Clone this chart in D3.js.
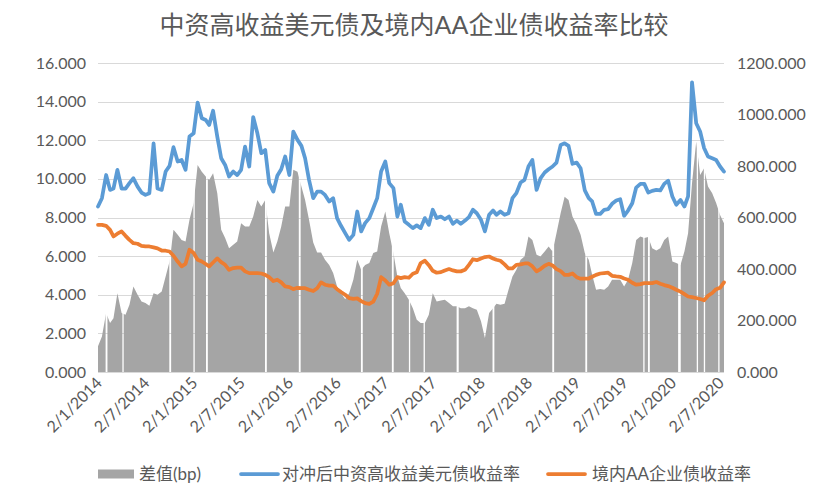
<html>
<head>
<title>中资高收益美元债及境内AA企业债收益率比较</title>
<!-- load the d3.js library -->
<script src="https://d3js.org/d3.v7.min.js"></script>
<meta charset="utf-8">
<style>
    body { margin: 0; background: #fff; }
    text { font-family: Lato, "Noto Sans CJK SC", sans-serif; fill: #595959; }
    .grid { stroke: #d9d9d9; stroke-width: 1px; }
    .spread { fill: #a5a5a5; }
    .line { fill: none; stroke: #5b9bd5; stroke-width: 3.75px; stroke-linejoin: round; stroke-linecap: round; }
    .line2 { fill: none; stroke: #ed7d31; stroke-width: 3.75px; stroke-linejoin: round; stroke-linecap: round; }
</style>
</head>
<body>
<script>
    var titleText = "中资高收益美元债及境内AA企业债收益率比较";
    var seriesNames = ["差值(bp)", "对冲后中资高收益美元债收益率", "境内AA企业债收益率"];

    // tick labels on the date axis (d/m/yyyy)
    var tickLabels = ["2/1/2014", "2/7/2014", "2/1/2015", "2/7/2015", "2/1/2016", "2/7/2016",
        "2/1/2017", "2/7/2017", "2/1/2018", "2/7/2018", "2/1/2019", "2/7/2019", "2/1/2020", "2/7/2020"];
    var leftTicks = [0, 2, 4, 6, 8, 10, 12, 14, 16];
    var rightTicks = [0, 200, 400, 600, 800, 1000, 1200];

    // observations on the 2nd and 17th of each month, Jan 2014 - Jul 2020
    var dates = [];
    d3.timeMonth.range(new Date(2014, 0, 1), new Date(2020, 7, 1)).forEach(function (m) {
        dates.push(new Date(m.getFullYear(), m.getMonth(), 2));
        dates.push(new Date(m.getFullYear(), m.getMonth(), 17));
    });

    // hedged chinese high-yield usd bond yield (%)
    var usdYield = [8.57, 9.0, 10.2, 9.43, 9.5, 10.47, 9.5, 9.5, 9.78, 10.03,
        9.6, 9.29, 9.17, 9.26, 11.84, 9.5, 9.43, 10.38, 10.67, 11.64,
        10.9, 10.98, 10.47, 12.19, 12.36, 13.95, 13.14, 13.05, 12.79, 13.53,
        12.19, 11.07, 10.72, 10.12, 10.38, 10.2, 10.47, 11.67, 10.64, 13.2,
        12.36, 11.33, 11.5, 9.78, 9.34, 10.16, 10.5, 11.16, 10.2, 12.45,
        12.02, 11.71, 11.07, 9.95, 9.0, 9.34, 9.34, 9.17, 8.83, 9.0,
        7.97, 7.57, 7.19, 6.84, 7.1, 8.31, 7.28, 7.71, 7.97, 8.48,
        9.0, 10.38, 10.9, 9.78, 9.52, 8.05, 8.66, 7.79, 7.62, 7.45,
        7.59, 7.45, 7.97, 7.62, 8.4, 7.97, 8.05, 7.91, 8.05, 7.67,
        7.84, 7.67, 7.84, 8.02, 8.4, 8.22, 7.88, 7.28, 8.14, 8.36,
        8.14, 8.31, 8.14, 8.22, 9.0, 9.26, 9.81, 9.95, 10.64, 10.98,
        9.43, 10.03, 10.33, 10.5, 10.64, 10.84, 11.76, 11.84, 11.71, 10.78,
        10.84, 10.55, 9.4, 9.0, 8.83, 8.19, 8.19, 8.4, 8.43, 8.71,
        8.88, 8.95, 8.09, 8.36, 8.74, 9.55, 9.74, 9.74, 9.29, 9.38,
        9.43, 9.4, 9.74, 9.91, 9.09, 8.66, 8.91, 8.57, 9.09, 15.0,
        12.88, 12.45, 11.6, 11.16, 11.07, 10.98, 10.64, 10.38];

    // onshore AA corporate bond yield (%)
    var aaYield = [7.62, 7.62, 7.57, 7.36, 7.02, 7.16, 7.28, 7.05, 6.84, 6.67,
        6.64, 6.53, 6.5, 6.5, 6.45, 6.4, 6.29, 6.28, 6.24, 6.02,
        5.72, 5.47, 5.6, 6.33, 6.16, 5.81, 5.72, 5.59, 5.47, 5.67,
        5.88, 5.69, 5.55, 5.29, 5.38, 5.4, 5.4, 5.21, 5.12, 5.12,
        5.12, 5.1, 5.03, 4.91, 4.71, 4.78, 4.64, 4.43, 4.4, 4.29,
        4.36, 4.34, 4.34, 4.26, 4.19, 4.34, 4.64, 4.52, 4.47, 4.47,
        4.29, 4.14, 4.0, 3.83, 3.79, 3.81, 3.67, 3.57, 3.53, 3.64,
        4.05, 4.91, 4.74, 4.52, 4.6, 4.91, 4.86, 4.91, 4.88, 5.09,
        5.16, 5.64, 5.76, 5.53, 5.24, 5.14, 5.17, 5.26, 5.33, 5.26,
        5.21, 5.21, 5.29, 5.55, 5.84, 5.79, 5.88, 5.95, 5.98, 5.88,
        5.81, 5.76, 5.57, 5.36, 5.36, 5.55, 5.57, 5.62, 5.62, 5.47,
        5.21, 5.33, 5.5, 5.6, 5.52, 5.33, 5.22, 5.03, 5.03, 5.1,
        4.91, 4.83, 4.84, 4.84, 4.93, 5.03, 5.1, 5.12, 5.14, 4.98,
        4.95, 4.93, 4.84, 4.78, 4.62, 4.52, 4.55, 4.6, 4.6, 4.6,
        4.66, 4.57, 4.5, 4.45, 4.36, 4.26, 4.16, 4.03, 3.91, 3.88,
        3.83, 3.78, 3.71, 3.95, 4.09, 4.29, 4.36, 4.64];

    // spread (bp), right axis
    var spreadBp = [100, 138, 229, 190, 209, 306, 229, 222, 261, 332,
        300, 274, 268, 257, 306, 300, 313, 371, 429, 552,
        533, 513, 507, 591, 656, 804, 778, 759, 746, 772,
        694, 552, 520, 481, 494, 507, 578, 565, 565, 604,
        668, 643, 668, 539, 464, 507, 565, 643, 643, 785,
        778, 720, 668, 591, 503, 464, 464, 436, 416, 384,
        332, 306, 283, 306, 358, 436, 397, 416, 423, 462,
        468, 565, 623, 539, 462, 371, 326, 306, 281, 248,
        203, 190, 190, 222, 306, 274, 278, 281, 268, 255,
        255, 248, 248, 255, 248, 242, 197, 132, 229, 248,
        265, 261, 265, 319, 371, 397, 436, 449, 526, 513,
        455, 449, 468, 487, 468, 539, 617, 681, 668, 604,
        572, 533, 462, 436, 378, 319, 322, 319, 332, 358,
        358, 358, 332, 358, 423, 513, 526, 520, 524, 481,
        472, 481, 513, 526, 429, 423, 416, 468, 539, 733,
        895, 765, 791, 720, 694, 656, 610, 578];

    // market holidays with no spread data (show as white gaps)
    var holidays = [["2014-01-31", "2014-02-06"], ["2014-04-05", "2014-04-07"], ["2014-10-01", "2014-10-07"],
        ["2015-01-01", "2015-01-03"], ["2015-02-18", "2015-02-24"], ["2015-10-01", "2015-10-07"],
        ["2016-02-07", "2016-02-13"], ["2016-10-01", "2016-10-07"], ["2017-01-27", "2017-02-02"],
        ["2017-04-02", "2017-04-04"], ["2017-05-28", "2017-05-30"], ["2017-10-01", "2017-10-08"],
        ["2018-02-15", "2018-02-21"], ["2018-10-01", "2018-10-07"], ["2019-02-04", "2019-02-10"],
        ["2019-09-13", "2019-09-15"], ["2019-10-01", "2019-10-07"], ["2020-01-24", "2020-02-02"],
        ["2020-04-04", "2020-04-06"], ["2020-05-01", "2020-05-05"], ["2020-06-25", "2020-06-27"]];

    var width = 824, height = 489;
    var plot = { left: 98, right: 724, top: 63, bottom: 372 };

    var parseTick = d3.timeParse("%d/%m/%Y");
    var parseDay = d3.timeParse("%Y-%m-%d");

    // set the ranges
    var x = d3.scaleTime()
        .domain([new Date(2014, 0, 2), new Date(2020, 6, 17)])
        .range([plot.left, plot.right]);
    var y = d3.scaleLinear().domain([0, 16]).range([plot.bottom, plot.top]);
    var y2 = d3.scaleLinear().domain([0, 1200]).range([plot.bottom, plot.top]);

    var svg = d3.select("body").append("svg")
        .attr("width", width)
        .attr("height", height);

    // title
    svg.append("text")
        .attr("x", 414)
        .attr("y", 34)
        .attr("text-anchor", "middle")
        .style("font-size", "25px")
        .text(titleText);

    // gridlines
    svg.selectAll(".grid")
        .data(leftTicks)
        .enter().append("line")
        .attr("class", "grid")
        .attr("x1", plot.left)
        .attr("x2", plot.right)
        .attr("y1", function (d) { return Math.round(y(d)) + 0.5; })
        .attr("y2", function (d) { return Math.round(y(d)) + 0.5; });

    // mask cutting out the holiday gaps from the spread area
    var mask = svg.append("defs").append("mask")
        .attr("id", "gapMask")
        .attr("maskUnits", "userSpaceOnUse")
        .attr("x", 0).attr("y", 0).attr("width", width).attr("height", height);
    mask.append("rect")
        .attr("width", width).attr("height", height)
        .attr("fill", "white");
    mask.selectAll(".gap")
        .data(holidays)
        .enter().append("rect")
        .attr("class", "gap")
        .attr("x", function (d) { return x(parseDay(d[0])); })
        .attr("y", 0)
        .attr("width", function (d) {
            var w = x(d3.timeDay.offset(parseDay(d[1]), 1)) - x(parseDay(d[0]));
            return Math.max(1.3, w);
        })
        .attr("height", height)
        .attr("fill", "black");

    // spread area
    var area = d3.area()
        .x(function (d, i) { return x(dates[i]); })
        .y0(y2(0))
        .y1(function (d) { return y2(d); });
    svg.append("path")
        .datum(spreadBp)
        .attr("class", "spread")
        .attr("mask", "url(#gapMask)")
        .attr("d", area);

    // the two yield lines
    var valueline = d3.line()
        .x(function (d, i) { return x(dates[i]); })
        .y(function (d) { return y(d); });
    svg.append("path")
        .datum(usdYield)
        .attr("class", "line")
        .attr("d", valueline);
    svg.append("path")
        .datum(aaYield)
        .attr("class", "line2")
        .attr("d", valueline);

    // left axis labels
    svg.selectAll(".ylab")
        .data(leftTicks)
        .enter().append("text")
        .attr("class", "ylab")
        .attr("x", 86)
        .attr("y", function (d) { return y(d); })
        .attr("dy", "0.35em")
        .attr("text-anchor", "end")
        .style("font-size", "16px")
        .text(function (d) { return d3.format(".3f")(d); });

    // right axis labels
    svg.selectAll(".y2lab")
        .data(rightTicks)
        .enter().append("text")
        .attr("class", "y2lab")
        .attr("x", 737)
        .attr("y", function (d) { return y2(d); })
        .attr("dy", "0.35em")
        .style("font-size", "16px")
        .text(function (d) { return d3.format(".3f")(d); });

    // date labels, rotated
    svg.selectAll(".xlab")
        .data(tickLabels)
        .enter().append("text")
        .attr("class", "xlab")
        .attr("text-anchor", "end")
        .attr("transform", function (d) {
            return "translate(" + (x(parseTick(d)) + 5) + "," + 384 + ") rotate(-45)";
        })
        .style("font-size", "16px")
        .text(function (d) { return d; });

    // legend
    var legendY = 474;
    var legend = [
        { name: seriesNames[0], sx: 98, tx: 139, kind: "rect", color: "#a5a5a5" },
        { name: seriesNames[1], sx: 241, tx: 282, kind: "line", color: "#5b9bd5" },
        { name: seriesNames[2], sx: 548, tx: 592, kind: "line", color: "#ed7d31" }
    ];
    for (var i = 0; i < legend.length; i++) {
        if (legend[i].kind == "rect") {
            svg.append("rect")
                .attr("x", legend[i].sx)
                .attr("y", legendY - 4.5)
                .attr("width", 36)
                .attr("height", 9)
                .attr("fill", legend[i].color);
        } else {
            svg.append("line")
                .attr("x1", legend[i].sx)
                .attr("x2", legend[i].sx + 37)
                .attr("y1", legendY)
                .attr("y2", legendY)
                .attr("stroke", legend[i].color)
                .attr("stroke-width", 3.75)
                .attr("stroke-linecap", "round");
        }
        svg.append("text")
            .attr("x", legend[i].tx)
            .attr("y", legendY)
            .attr("dy", "0.35em")
            .style("font-size", "17px")
            .text(legend[i].name);
    }
</script>
</body>
</html>
